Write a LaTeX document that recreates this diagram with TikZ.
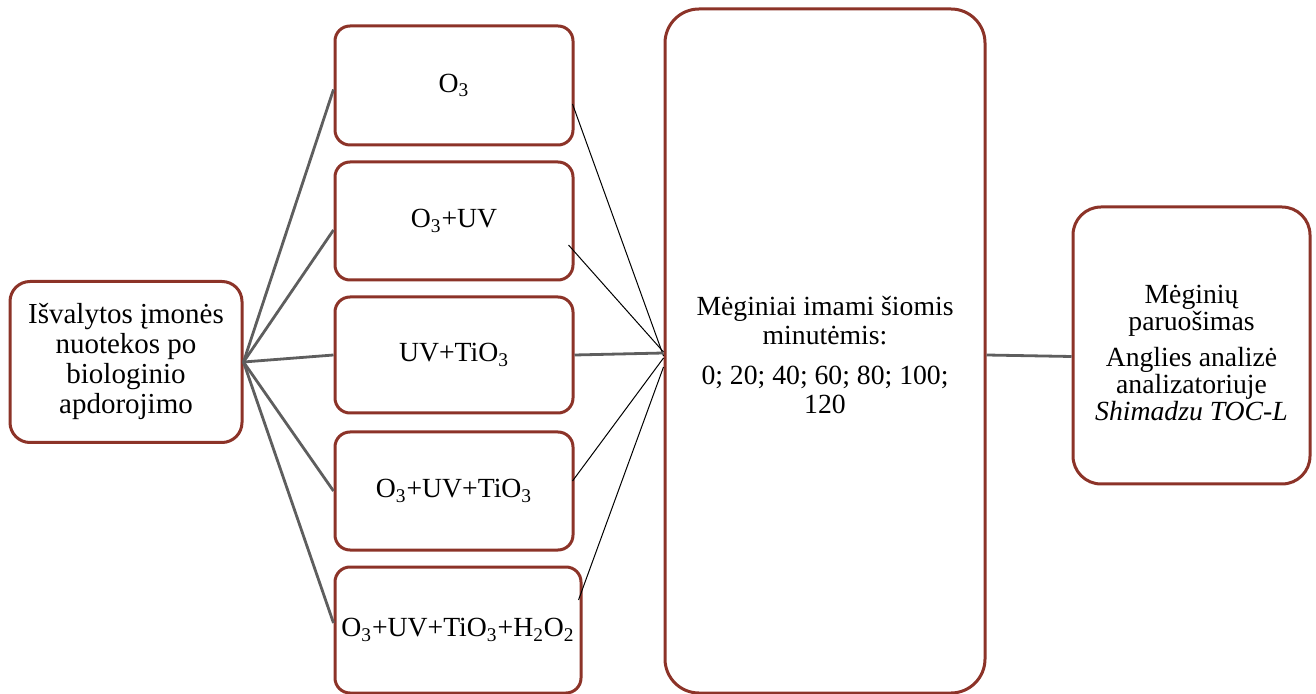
\documentclass[tikz,border=0pt]{standalone}
\usepackage{fontspec}
\setmainfont{Liberation Serif}
\definecolor{boxred}{HTML}{8C3328}
\definecolor{conn}{HTML}{5E5E5E}
\begin{document}
\begin{tikzpicture}[x=0.5pt,y=-0.5pt,
  box/.style={draw=boxred, line width=1.5pt, fill=white, rounded corners=7.5pt,
    align=center, inner sep=1pt, font=\fontsize{13.85pt}{13.9pt}\selectfont},
  boxtext/.style={align=center, inner sep=1pt, font=\fontsize{13.85pt}{13.6pt}\selectfont},
  graylink/.style={draw=conn, line width=1.4pt},
  thinlink/.style={draw=black, line width=0.5pt}]
\useasboundingbox (0,0) rectangle (1316,694);

\node[box, minimum width=116pt, minimum height=80.5pt, rounded corners=10pt,
  font=\fontsize{14.5pt}{15pt}\selectfont] (src) at (126,362)
  {Išvalytos įmonės\\nuotekos po\\biologinio\\apdorojimo};

\node[box, minimum width=119pt, minimum height=59.5pt] (b1) at (454,85.5) {O\textsubscript{3}};
\node[box, minimum width=119pt, minimum height=59pt] (b2) at (454,221) {O\textsubscript{3}+UV};
\node[box, minimum width=119pt, minimum height=58pt] (b3) at (454,355) {UV+TiO\textsubscript{3}};
\node[box, minimum width=119pt, minimum height=59pt] (b4) at (454,491) {O\textsubscript{3}+UV+TiO\textsubscript{3}};
\node[box, minimum width=123pt, minimum height=63pt] (b5) at (458,630) {O\textsubscript{3}+UV+TiO\textsubscript{3}+H\textsubscript{2}O\textsubscript{2}};

\node[box, minimum width=160pt, minimum height=342pt, rounded corners=17pt] (big) at (825,351) {};
\node[boxtext, font=\fontsize{13.85pt}{14pt}\selectfont] (bigtext) at (825,355)
  {Mėginiai imami šiomis\\minutėmis:\\[6.5pt]0; 20; 40; 60; 80; 100;\\120};

\node[box, minimum width=118.5pt, minimum height=138.5pt, rounded corners=14pt] (rb) at (1191.5,345.5) {};
\node[boxtext] (rbtext) at (1191.5,353)
  {Mėginių\\paruošimas\\[4pt]Anglies analizė\\analizatoriuje\\\textit{Shimadzu TOC-L}};

% connectors from source
\draw[graylink] (src.east) -- ([yshift=-2pt]b1.west);
\draw[graylink] (src.east) -- ([yshift=-4.5pt]b2.west);
\draw[graylink] (src.east) -- (b3.west);
\draw[graylink] (src.east) -- (b4.west);
\draw[graylink] (src.east) -- ([yshift=3.5pt]b5.west);

% connectors to big box
\draw[thinlink] ([xshift=-1pt,yshift=-9.25pt]b1.east) -- ([yshift=-2.5pt]big.west);
\draw[thinlink] ([xshift=-3pt,yshift=-12pt]b2.east) -- ([yshift=-0.5pt]big.west);
\draw[graylink] (b3.east) -- ([yshift=-1pt]big.west);
\draw[thinlink] ([xshift=-1pt,yshift=5pt]b4.east) -- ([yshift=-3.5pt]big.west);
\draw[thinlink] ([xshift=-2pt,yshift=15pt]b5.east) -- ([yshift=-8pt]big.west);

% big to right
\draw[graylink] ([yshift=-2pt]big.east) -- ([yshift=-5.5pt]rb.west);
\end{tikzpicture}
\end{document}
